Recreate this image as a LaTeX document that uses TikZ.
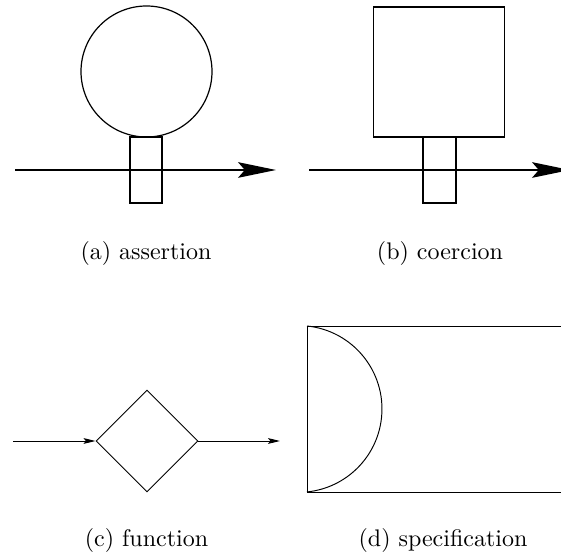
\documentclass[tikz,border=0pt]{standalone}
\usetikzlibrary{shapes.geometric,arrows.meta}
\begin{document}
\begin{tikzpicture}[x=0.41667pt,y=-0.41667pt,
  outline/.style={draw,line width=0.5pt,inner sep=0pt,fill=none},
  bigarrow/.style={line width=0.6pt,-{Stealth[length=15.8pt,width=6.5pt,inset=2.8pt]}},
  smallarrow/.style={line width=0.4pt,-{Stealth[length=5pt,width=2.4pt,inset=1pt]}},
  caption/.style={anchor=base,inner sep=0pt}]
\clip (0,0) rectangle (561,560);
% (a) assertion
\coordinate (a1) at (15,170);
\coordinate (a2) at (276,170);
\draw[bigarrow] (a1) -- (a2);
\node[outline,circle,minimum size=54.58pt] (acirc) at (146.5,71.5) {};
\node[outline,rectangle,minimum width=13.33pt,minimum height=27.5pt] (arect) at (146,170) {};
\node[caption] (acap) at (146,260) {(a) assertion};
% (b) coercion
\coordinate (b1) at (309,170);
\coordinate (b2) at (570,170);
\draw[bigarrow] (b1) -- (b2);
\node[outline,rectangle,minimum width=54.8pt,minimum height=54.17pt] (bsq) at (439,72) {};
\node[outline,rectangle,minimum width=13.75pt,minimum height=27.5pt] (brect) at (439.5,170) {};
\node[caption] (bcap) at (440,260) {(b) coercion};
% (c) function
\node[outline,diamond,line width=0.4pt,minimum size=42.5pt] (dia) at (147,441) {};
\coordinate (c1) at (13,441);
\coordinate (c2) at (280,441);
\draw[smallarrow] (c1) -- (dia.west);
\draw[smallarrow] (dia.east) -- (c2);
\node[caption] (ccap) at (146.5,547) {(c) function};
% (d) specification
\coordinate (dtl) at (307,326);
\coordinate (dbl) at (307,492);
\coordinate (dtr) at (575,326);
\coordinate (dbr) at (575,492);
\draw[line width=0.4pt] (dtr) -- (dtl) -- (dbl) -- (dbr);
\draw[line width=0.4pt] (dtl) arc[start angle=84.2,end angle=-84.2,radius=34.75pt];
\node[caption] (dcap) at (443,547) {(d) specification};
\end{tikzpicture}
\end{document}
